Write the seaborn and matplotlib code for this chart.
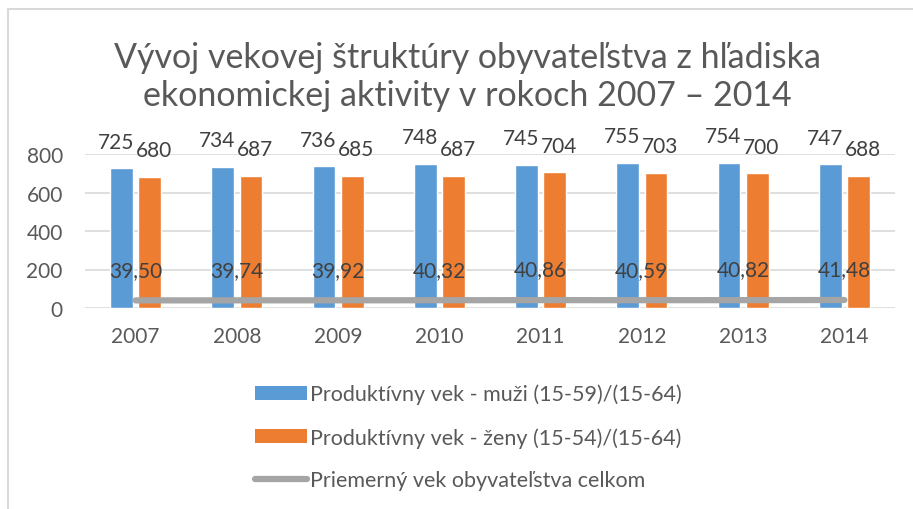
import matplotlib
matplotlib.use("Agg")
import matplotlib.pyplot as plt
import seaborn as sns
import pandas as pd
import numpy as np
from matplotlib.lines import Line2D
from matplotlib.patches import Patch

years = ["2007", "2008", "2009", "2010", "2011", "2012", "2013", "2014"]
muzi = [725, 734, 736, 748, 745, 755, 754, 747]
zeny = [680, 687, 685, 687, 704, 703, 700, 688]
priemer = [39.50, 39.74, 39.92, 40.32, 40.86, 40.59, 40.82, 41.48]
series_names = ["Produktívny vek - muži (15-59)/(15-64)",
                "Produktívny vek - ženy (15-54)/(15-64)",
                "Priemerný vek obyvateľstva celkom"]
title = "Vývoj vekovej štruktúry obyvateľstva z hľadiska\nekonomickej aktivity v rokoch 2007 – 2014"

BLUE = "#5B9BD5"
ORANGE = "#ED7D31"
GRAY = "#A5A5A5"
TXT = "#595959"
LBL = "#404040"

sns.set_theme(style="white")
plt.rcParams["font.family"] = ["Lato", "DejaVu Sans"]

df = pd.DataFrame({
    "rok": years * 2,
    "hodnota": muzi + zeny,
    "seria": [series_names[0]] * len(years) + [series_names[1]] * len(years),
})

fig = plt.figure(figsize=(9.13, 5.10), dpi=100)
ax = fig.add_axes([85 / 913, 1 - 309 / 510, (895 - 85) / 913, (309 - 155) / 510])

sns.barplot(data=df, x="rok", y="hodnota", hue="seria", order=years,
            hue_order=series_names[:2], palette=[BLUE, ORANGE],
            width=0.56, gap=0.2, saturation=1, ax=ax, legend=False, zorder=2)

sns.pointplot(x=years, y=priemer, order=years, color=GRAY, marker="",
              linewidth=4.5, ax=ax, zorder=3)

ax.set_ylim(0, 800)
ax.set_yticks([0, 200, 400, 600, 800])
ax.grid(axis="y", color="#D9D9D9", linewidth=1.2, zorder=0)
ax.set_axisbelow(True)
for s in ax.spines.values():
    s.set_visible(False)
ax.set_xlabel("")
ax.set_ylabel("")
ax.tick_params(axis="both", length=0, labelsize=15, colors=TXT)
ax.tick_params(axis="x", pad=13)
ax.tick_params(axis="y", pad=16)

# bar value labels
shifts = [-4, 3]
for cont, dx in zip(ax.containers[:2], shifts):
    for bar in cont:
        h = bar.get_height()
        ax.annotate(f"{int(round(h))}", (bar.get_x() + bar.get_width() / 2, h),
                    xytext=(dx, 12), textcoords="offset points",
                    ha="center", va="bottom", fontsize=15, color=LBL, zorder=5)

# line value labels
for i, v in enumerate(priemer):
    ax.annotate(f"{v:.2f}".replace(".", ","), (i, v), xytext=(0, 22),
                textcoords="offset points", ha="center", va="center",
                fontsize=15, color=LBL, zorder=5)

fig.text(467 / 913, 1 - 77 / 510, title, ha="center", va="center",
         fontsize=24.5, color=TXT, linespacing=1.2)

handles = [Patch(facecolor=BLUE, edgecolor="none"),
           Patch(facecolor=ORANGE, edgecolor="none"),
           Line2D([0], [0], color=GRAY, linewidth=4.5, solid_capstyle="round")]
fig.legend(handles, series_names, loc="center left",
           bbox_to_anchor=(255 / 913, 1 - 438 / 510), frameon=False,
           fontsize=15.5, labelcolor=TXT, handlelength=2.4, handleheight=0.6,
           handletextpad=0.15, labelspacing=1.05, borderpad=0, borderaxespad=0)

# chart frame
fig.add_artist(Line2D([8 / 913, 8 / 913, 1], [0, 1 - 10 / 510, 1 - 10 / 510],
                      transform=fig.transFigure, color="#D9D9D9", linewidth=1.5))

fig.savefig("out.png", dpi=100)
